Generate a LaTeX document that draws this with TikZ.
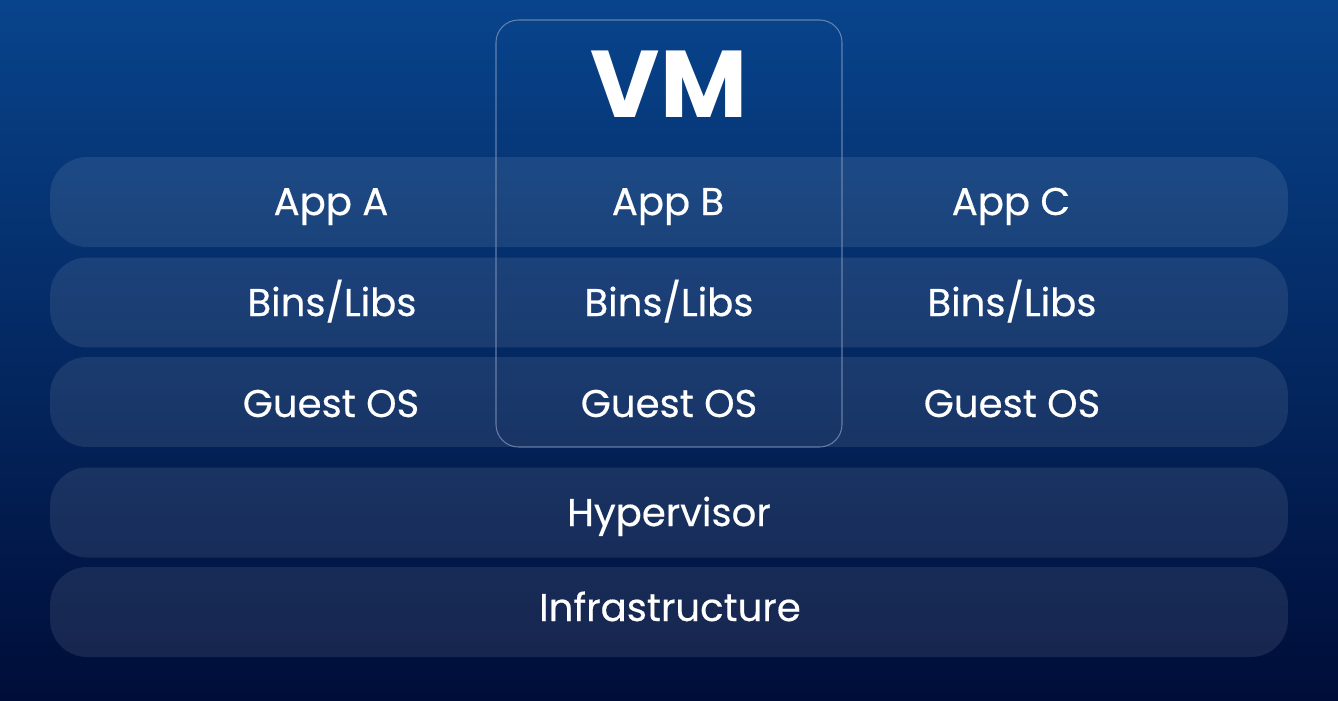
\documentclass[tikz,border=0pt]{standalone}
\usepackage{fontspec}
\setmainfont{Poppins}
\definecolor{bgtop}{HTML}{08448C}
\definecolor{bgbot}{HTML}{000D38}
\definecolor{vmline}{HTML}{8A9CC0}
\begin{document}
\begin{tikzpicture}[x=0.02cm,y=-0.02cm,
  bar/.style={rectangle, rounded corners=0.74cm, fill=white, fill opacity=0.09, draw=none,
    minimum width=24.76cm, minimum height=1.8cm, inner sep=0pt},
  lbl/.style={text=white, anchor=base, inner sep=0pt, font=\fontsize{22}{26}\selectfont\addfontfeature{FakeBold=0.4}},
  vmbox/.style={draw=vmline, draw opacity=0.7, line width=0.6pt, rounded corners=0.45cm}]
\useasboundingbox (0,0) rectangle (1338,700);
\shade[top color=bgtop, bottom color=bgbot] (0,0) rectangle (1338,700);
% bars
\node[bar] (rowapp)  at (669,202) {};
\node[bar] (rowbin)  at (669,302.5) {};
\node[bar] (rowos)   at (669,402) {};
\node[bar] (rowhyp)  at (669,512.5) {};
\node[bar] (rowinf)  at (669,612) {};
% VM box
\draw[vmbox] (496,20) rectangle (842,447);
\node[text=white, anchor=base, inner sep=0pt, font=\fontsize{54}{58}\selectfont\bfseries] (vm) at (669,117) {VM};
% labels
\node[lbl] (appa) at (331,215) {App A};
\node[lbl] (appb) at (668,215) {App B};
\node[lbl] (appc) at (1011,215) {App C};
\node[lbl] (bina) at (332,316) {Bins/Libs};
\node[lbl] (binb) at (669,316) {Bins/Libs};
\node[lbl] (binc) at (1012,316) {Bins/Libs};
\node[lbl] (osa) at (331,417) {Guest OS};
\node[lbl] (osb) at (669,417) {Guest OS};
\node[lbl] (osc) at (1012,417) {Guest OS};
\node[lbl] (hyp) at (669,526) {Hypervisor};
\node[lbl] (inf) at (670,621) {Infrastructure};
\end{tikzpicture}
\end{document}
